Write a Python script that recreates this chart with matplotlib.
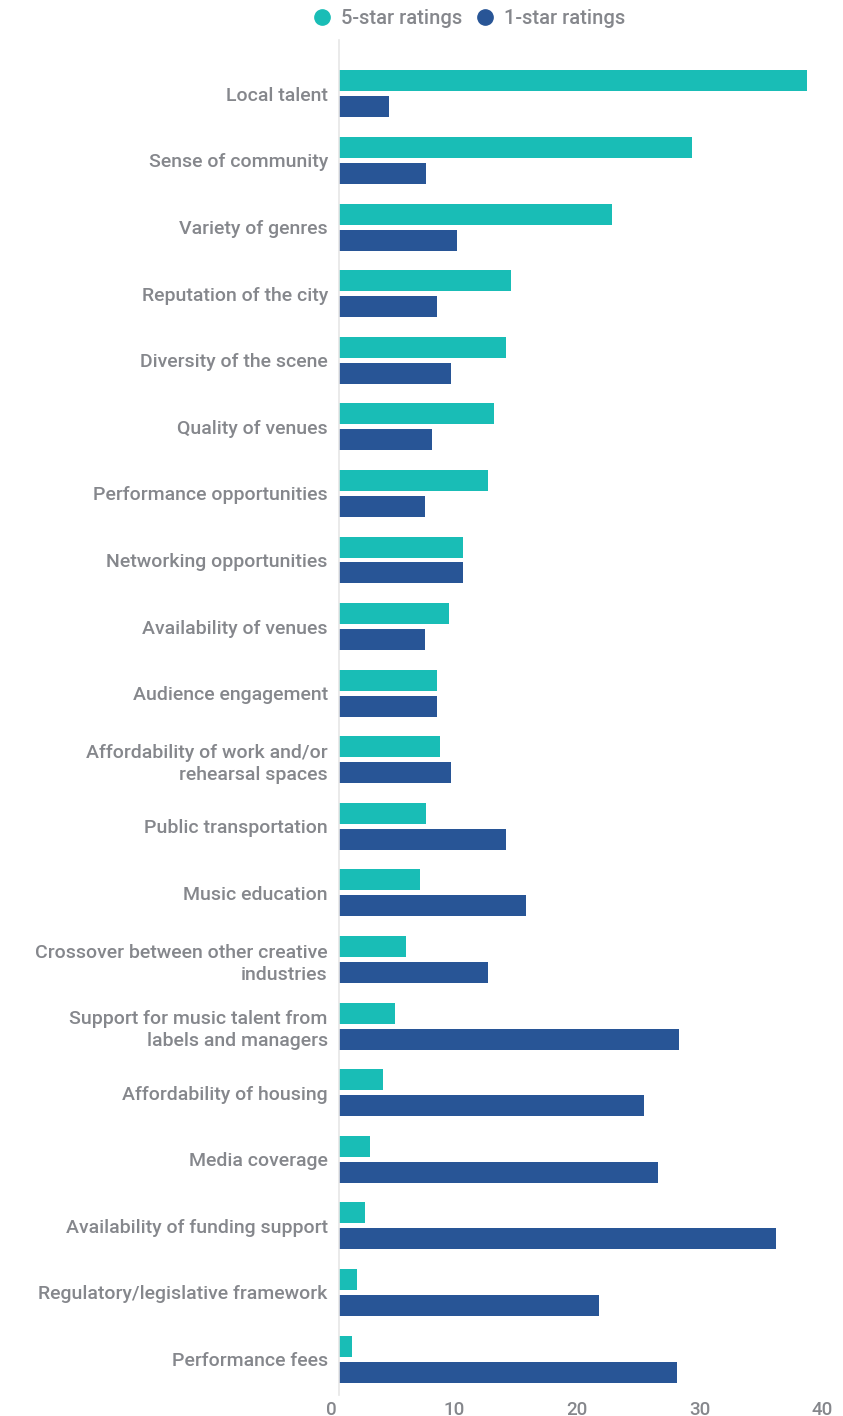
import matplotlib.pyplot as plt
import matplotlib.transforms as mtransforms
import numpy as np

plt.rcParams['font.family'] = ['Roboto', 'DejaVu Sans']

categories = [
    'Local talent', 'Sense of community', 'Variety of genres',
    'Reputation of the city', 'Diversity of the scene', 'Quality of venues',
    'Performance opportunities', 'Networking opportunities',
    'Availability of venues', 'Audience engagement',
    'Affordability of work and/or\nrehearsal spaces', 'Public transportation',
    'Music education', 'Crossover between other creative\nindustries',
    'Support for music talent from\nlabels and managers',
    'Affordability of housing', 'Media coverage',
    'Availability of funding support', 'Regulatory/legislative framework',
    'Performance fees',
]
five_star = [38.1, 28.7, 22.2, 14.0, 13.6, 12.6, 12.1, 10.1, 9.0, 8.0,
             8.2, 7.1, 6.6, 5.5, 4.6, 3.6, 2.5, 2.1, 1.5, 1.1]
one_star = [4.1, 7.1, 9.6, 8.0, 9.1, 7.6, 7.0, 10.1, 7.0, 8.0,
            9.1, 13.6, 15.2, 12.1, 27.7, 24.8, 26.0, 35.6, 21.2, 27.5]
x_ticks = [0, 10, 20, 30, 40]

TEAL = '#19bdb6'
BLUE = '#285596'
GREY = '#85878c'

fig = plt.figure(figsize=(8.43, 14.16), dpi=100)
ax = fig.add_axes([0.402, 0.0148, 0.583, 0.957])

y = np.arange(len(categories))
h = 0.315
ax.barh(y - 0.195, five_star, height=h, color=TEAL, label='5-star ratings')
ax.barh(y + 0.195, one_star, height=h, color=BLUE, label='1-star ratings')

ax.set_xlim(0, 40)
ax.set_ylim(len(categories) - 0.46, -0.81)
ax.set_yticks(y)
ax.set_yticklabels(categories, fontsize=14, color=GREY, linespacing=1.3,
                   fontweight='medium')
ax.set_xticks(x_ticks)
ax.set_xticklabels([str(t) for t in x_ticks], fontsize=13.5, color=GREY,
                   fontweight='medium')
ax.tick_params(axis='both', length=0)
ax.tick_params(axis='y', pad=8)
ax.tick_params(axis='x', pad=4)
offset = mtransforms.ScaledTranslation(-8 / 100, 0, fig.dpi_scale_trans)
for lab in ax.get_xticklabels():
    lab.set_transform(lab.get_transform() + offset)

for side in ['top', 'right', 'bottom']:
    ax.spines[side].set_visible(False)
ax.spines['left'].set_color('#e6e6e6')
ax.spines['left'].set_linewidth(1.2)

handles = [
    plt.Line2D([], [], marker='o', linestyle='', markersize=11, color=TEAL),
    plt.Line2D([], [], marker='o', linestyle='', markersize=11, color=BLUE),
]
leg = fig.legend(handles, ['5-star ratings', '1-star ratings'], loc='center',
                 bbox_to_anchor=(0.556, 1 - 19 / 1416), ncol=2, frameon=False,
                 handletextpad=0.45, columnspacing=0.6, handlelength=1.0,
                 prop={'weight': 'medium', 'size': 14.5})
for t in leg.get_texts():
    t.set_color(GREY)

fig.savefig('out.png', dpi=100)
